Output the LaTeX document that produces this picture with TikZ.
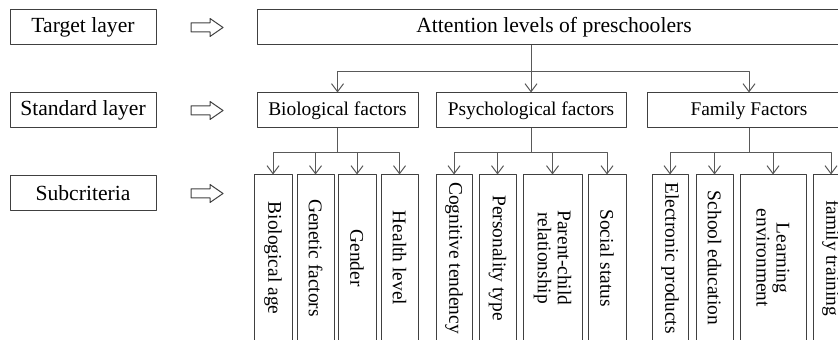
\documentclass[tikz,border=0pt]{standalone}
\usepackage{fontspec}
\setmainfont{Liberation Serif}
\usetikzlibrary{arrows.meta}

\begin{document}
\begin{tikzpicture}[x=0.5pt, y=-0.5pt, font=\fontsize{10.8}{13}\selectfont, line join=round,
	box/.style={draw=black!75, line width=0.5pt, minimum height=17.5pt, inner sep=0pt},
	factor/.style={box, font=\fontsize{9.7}{12}\selectfont},
	subbox/.style={draw=black!75, line width=0.5pt, rotate=-90, minimum width=83pt, inner sep=0pt, align=center, font=\fontsize{9.7}{10}\selectfont},
	link/.style={draw=black!65, line width=0.5pt},
	>={Straight Barb[length=4pt,width=6pt]}]
	\useasboundingbox (0,0) rectangle (838,340);
	\clip (0,0) rectangle (838,340);
	% layer names
	\node[box, minimum width=73pt] (tgt) at (83,27.5) {Target layer};
	\node[box, minimum width=73pt] (std) at (83,110.5) {Standard layer};
	\node[box, minimum width=73pt] (crit) at (83,193.5) {Subcriteria};
	\foreach \y in {27.5,110.5,193.5}
	\draw[black!75, line width=0.5pt] (191,\y-4.5) -- (210,\y-4.5) -- (210,\y-9) -- (223,\y)
	-- (210,\y+9) -- (210,\y+4.5) -- (191,\y+4.5) -- cycle;
	% target and standard layer
	\node[box, minimum width=297pt] (top) at (554,27.5) {Attention levels of preschoolers};
	\node[factor, minimum width=80.5pt] (bio) at (337.5,110.5) {Biological factors};
	\node[factor, minimum width=95pt] (psy) at (531,110.5) {Psychological factors};
	\node[factor, minimum width=102pt] (fam) at (749,110.5) {Family Factors};
	% subcriteria
	\node[subbox, minimum height=19pt] (age) at (273,258) {Biological age};
	\node[subbox, minimum height=18.5pt] (gene) at (315.5,258) {Genetic factors};
	\node[subbox, minimum height=19pt] (gen) at (357,258) {Gender};
	\node[subbox, minimum height=18.5pt] (health) at (399.5,258) {Health level};
	\node[subbox, minimum height=18pt] (cog) at (454,258) {Cognitive tendency};
	\node[subbox, minimum height=18.5pt] (pers) at (497.5,258) {Personality type};
	\node[subbox, minimum height=29.5pt] (par) at (552.5,258) {Parent-child\\relationship};
	\node[subbox, minimum height=19pt] (soc) at (607,258) {Social status};
	\node[subbox, minimum height=18pt] (elec) at (670,258) {Electronic products};
	\node[subbox, minimum height=18.5pt] (school) at (714.5,258) {School education};
	\node[subbox, minimum height=33pt] (learn) at (773,258) {Learning\\environment};
	\node[subbox, minimum height=18pt] (train) at (831,258) {family training};
	% connectors
	\coordinate (bus1) at (0,72);
	\coordinate (bus2) at (0,153);
	\draw[link,->] (top.south -| psy.north) -- (psy.north);
	\draw[link,->] (top.south -| psy.north) |- (bus1 -| bio.north) -- (bio.north);
	\draw[link,->] (top.south -| psy.north) |- (bus1 -| fam.north) -- (fam.north);
	\foreach \a/\b in {bio/age, bio/gene, bio/gen, bio/health, psy/cog, psy/pers, psy/par, psy/soc,
		fam/elec, fam/school, fam/learn, fam/train}
	\draw[link,->] (\a.south) |- (bus2 -| \b.west) -- (\b.west);
\end{tikzpicture}
\end{document}
